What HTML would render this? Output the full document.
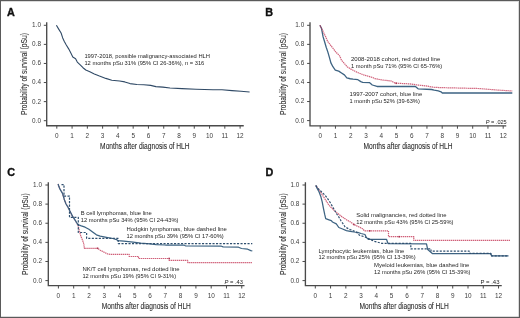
<!DOCTYPE html>
<html><head><meta charset="utf-8"><style>
html,body{margin:0;padding:0;background:#fff;}
body{width:520px;height:318px;overflow:hidden;position:relative;}
svg{position:absolute;left:0;top:0;display:block;font-family:"Liberation Sans", sans-serif;will-change:transform;}
svg.main{filter:blur(0.3px);}
</style></head><body>
<svg class="main" width="520" height="318" viewBox="0 0 520 318">
<rect x="0" y="0" width="520" height="318" fill="#fff"/>
<text x="7" y="16.2" font-size="10.8" text-anchor="start" fill="#111" font-weight="bold" font-style="normal" stroke="#111" stroke-width="0.35">A</text>
<path d="M46.7 22.3V125.75H243.75" fill="none" stroke="#4a4a4a" stroke-width="1.35"/>
<text x="41" y="122.6" font-size="6.4" text-anchor="end" fill="#3c3c3c" font-weight="normal" font-style="normal">0.0</text>
<text x="41" y="103.52" font-size="6.4" text-anchor="end" fill="#3c3c3c" font-weight="normal" font-style="normal">0.2</text>
<text x="41" y="84.44" font-size="6.4" text-anchor="end" fill="#3c3c3c" font-weight="normal" font-style="normal">0.4</text>
<text x="41" y="65.36" font-size="6.4" text-anchor="end" fill="#3c3c3c" font-weight="normal" font-style="normal">0.6</text>
<text x="41" y="46.28" font-size="6.4" text-anchor="end" fill="#3c3c3c" font-weight="normal" font-style="normal">0.8</text>
<text x="41" y="27.2" font-size="6.4" text-anchor="end" fill="#3c3c3c" font-weight="normal" font-style="normal">1.0</text>
<text x="56.8" y="137.55" font-size="6.4" text-anchor="middle" fill="#3c3c3c" font-weight="normal" font-style="normal">0</text>
<text x="72.08" y="137.55" font-size="6.4" text-anchor="middle" fill="#3c3c3c" font-weight="normal" font-style="normal">1</text>
<text x="87.35" y="137.55" font-size="6.4" text-anchor="middle" fill="#3c3c3c" font-weight="normal" font-style="normal">2</text>
<text x="102.62" y="137.55" font-size="6.4" text-anchor="middle" fill="#3c3c3c" font-weight="normal" font-style="normal">3</text>
<text x="117.9" y="137.55" font-size="6.4" text-anchor="middle" fill="#3c3c3c" font-weight="normal" font-style="normal">4</text>
<text x="133.18" y="137.55" font-size="6.4" text-anchor="middle" fill="#3c3c3c" font-weight="normal" font-style="normal">5</text>
<text x="148.45" y="137.55" font-size="6.4" text-anchor="middle" fill="#3c3c3c" font-weight="normal" font-style="normal">6</text>
<text x="163.72" y="137.55" font-size="6.4" text-anchor="middle" fill="#3c3c3c" font-weight="normal" font-style="normal">7</text>
<text x="179" y="137.55" font-size="6.4" text-anchor="middle" fill="#3c3c3c" font-weight="normal" font-style="normal">8</text>
<text x="194.27" y="137.55" font-size="6.4" text-anchor="middle" fill="#3c3c3c" font-weight="normal" font-style="normal">9</text>
<text x="209.55" y="137.55" font-size="6.4" text-anchor="middle" fill="#3c3c3c" font-weight="normal" font-style="normal">10</text>
<text x="224.82" y="137.55" font-size="6.4" text-anchor="middle" fill="#3c3c3c" font-weight="normal" font-style="normal">11</text>
<text x="240.1" y="137.55" font-size="6.4" text-anchor="middle" fill="#3c3c3c" font-weight="normal" font-style="normal">12</text>
<path d="M43.8 120.7H46.7M43.8 101.62H46.7M43.8 82.54H46.7M43.8 63.46H46.7M43.8 44.38H46.7M43.8 25.3H46.7M56.8 125.75V128.65M72.08 125.75V128.65M87.35 125.75V128.65M102.62 125.75V128.65M117.9 125.75V128.65M133.18 125.75V128.65M148.45 125.75V128.65M163.72 125.75V128.65M179 125.75V128.65M194.27 125.75V128.65M209.55 125.75V128.65M224.82 125.75V128.65M240.1 125.75V128.65" fill="none" stroke="#4a4a4a" stroke-width="1"/>
<text x="100.1" y="148.9" font-size="8.6" text-anchor="start" fill="#2a2a2a" font-weight="normal" font-style="normal" textLength="89.5" lengthAdjust="spacingAndGlyphs" stroke="#2a2a2a" stroke-width="0.08">Months after diagnosis of HLH</text>
<g transform="translate(26.6 114.9) rotate(-90)"><text x="0" y="0" font-size="8.6" text-anchor="start" fill="#2a2a2a" font-weight="normal" font-style="normal" textLength="82" lengthAdjust="spacingAndGlyphs" stroke="#2a2a2a" stroke-width="0.08">Probability of survival (pSu)</text></g>
<text x="265.3" y="15.8" font-size="10.8" text-anchor="start" fill="#111" font-weight="bold" font-style="normal" stroke="#111" stroke-width="0.35">B</text>
<path d="M310 22.3V125.8H506.25" fill="none" stroke="#4a4a4a" stroke-width="1.35"/>
<text x="304.2" y="122.5" font-size="6.4" text-anchor="end" fill="#3c3c3c" font-weight="normal" font-style="normal">0.0</text>
<text x="304.2" y="103.44" font-size="6.4" text-anchor="end" fill="#3c3c3c" font-weight="normal" font-style="normal">0.2</text>
<text x="304.2" y="84.38" font-size="6.4" text-anchor="end" fill="#3c3c3c" font-weight="normal" font-style="normal">0.4</text>
<text x="304.2" y="65.32" font-size="6.4" text-anchor="end" fill="#3c3c3c" font-weight="normal" font-style="normal">0.6</text>
<text x="304.2" y="46.26" font-size="6.4" text-anchor="end" fill="#3c3c3c" font-weight="normal" font-style="normal">0.8</text>
<text x="304.2" y="27.2" font-size="6.4" text-anchor="end" fill="#3c3c3c" font-weight="normal" font-style="normal">1.0</text>
<text x="320.2" y="137.6" font-size="6.4" text-anchor="middle" fill="#3c3c3c" font-weight="normal" font-style="normal">0</text>
<text x="335.45" y="137.6" font-size="6.4" text-anchor="middle" fill="#3c3c3c" font-weight="normal" font-style="normal">1</text>
<text x="350.7" y="137.6" font-size="6.4" text-anchor="middle" fill="#3c3c3c" font-weight="normal" font-style="normal">2</text>
<text x="365.95" y="137.6" font-size="6.4" text-anchor="middle" fill="#3c3c3c" font-weight="normal" font-style="normal">3</text>
<text x="381.2" y="137.6" font-size="6.4" text-anchor="middle" fill="#3c3c3c" font-weight="normal" font-style="normal">4</text>
<text x="396.45" y="137.6" font-size="6.4" text-anchor="middle" fill="#3c3c3c" font-weight="normal" font-style="normal">5</text>
<text x="411.7" y="137.6" font-size="6.4" text-anchor="middle" fill="#3c3c3c" font-weight="normal" font-style="normal">6</text>
<text x="426.95" y="137.6" font-size="6.4" text-anchor="middle" fill="#3c3c3c" font-weight="normal" font-style="normal">7</text>
<text x="442.2" y="137.6" font-size="6.4" text-anchor="middle" fill="#3c3c3c" font-weight="normal" font-style="normal">8</text>
<text x="457.45" y="137.6" font-size="6.4" text-anchor="middle" fill="#3c3c3c" font-weight="normal" font-style="normal">9</text>
<text x="472.7" y="137.6" font-size="6.4" text-anchor="middle" fill="#3c3c3c" font-weight="normal" font-style="normal">10</text>
<text x="487.95" y="137.6" font-size="6.4" text-anchor="middle" fill="#3c3c3c" font-weight="normal" font-style="normal">11</text>
<text x="503.2" y="137.6" font-size="6.4" text-anchor="middle" fill="#3c3c3c" font-weight="normal" font-style="normal">12</text>
<path d="M307.1 120.6H310M307.1 101.54H310M307.1 82.48H310M307.1 63.42H310M307.1 44.36H310M307.1 25.3H310M320.2 125.8V128.7M335.45 125.8V128.7M350.7 125.8V128.7M365.95 125.8V128.7M381.2 125.8V128.7M396.45 125.8V128.7M411.7 125.8V128.7M426.95 125.8V128.7M442.2 125.8V128.7M457.45 125.8V128.7M472.7 125.8V128.7M487.95 125.8V128.7M503.2 125.8V128.7" fill="none" stroke="#4a4a4a" stroke-width="1"/>
<text x="363.5" y="148.9" font-size="8.6" text-anchor="start" fill="#2a2a2a" font-weight="normal" font-style="normal" textLength="89.1" lengthAdjust="spacingAndGlyphs" stroke="#2a2a2a" stroke-width="0.08">Months after diagnosis of HLH</text>
<g transform="translate(285.8 115) rotate(-90)"><text x="0" y="0" font-size="8.6" text-anchor="start" fill="#2a2a2a" font-weight="normal" font-style="normal" textLength="82" lengthAdjust="spacingAndGlyphs" stroke="#2a2a2a" stroke-width="0.08">Probability of survival (pSu)</text></g>
<text x="7.3" y="176.2" font-size="10.8" text-anchor="start" fill="#111" font-weight="bold" font-style="normal" stroke="#111" stroke-width="0.35">C</text>
<path d="M48.3 182.2V285.6H244.5" fill="none" stroke="#4a4a4a" stroke-width="1.35"/>
<text x="42" y="282.5" font-size="6.4" text-anchor="end" fill="#3c3c3c" font-weight="normal" font-style="normal">0.0</text>
<text x="42" y="263.38" font-size="6.4" text-anchor="end" fill="#3c3c3c" font-weight="normal" font-style="normal">0.2</text>
<text x="42" y="244.26" font-size="6.4" text-anchor="end" fill="#3c3c3c" font-weight="normal" font-style="normal">0.4</text>
<text x="42" y="225.14" font-size="6.4" text-anchor="end" fill="#3c3c3c" font-weight="normal" font-style="normal">0.6</text>
<text x="42" y="206.02" font-size="6.4" text-anchor="end" fill="#3c3c3c" font-weight="normal" font-style="normal">0.8</text>
<text x="42" y="186.9" font-size="6.4" text-anchor="end" fill="#3c3c3c" font-weight="normal" font-style="normal">1.0</text>
<text x="58.4" y="297.6" font-size="6.4" text-anchor="middle" fill="#3c3c3c" font-weight="normal" font-style="normal">0</text>
<text x="73.68" y="297.6" font-size="6.4" text-anchor="middle" fill="#3c3c3c" font-weight="normal" font-style="normal">1</text>
<text x="88.96" y="297.6" font-size="6.4" text-anchor="middle" fill="#3c3c3c" font-weight="normal" font-style="normal">2</text>
<text x="104.24" y="297.6" font-size="6.4" text-anchor="middle" fill="#3c3c3c" font-weight="normal" font-style="normal">3</text>
<text x="119.52" y="297.6" font-size="6.4" text-anchor="middle" fill="#3c3c3c" font-weight="normal" font-style="normal">4</text>
<text x="134.8" y="297.6" font-size="6.4" text-anchor="middle" fill="#3c3c3c" font-weight="normal" font-style="normal">5</text>
<text x="150.08" y="297.6" font-size="6.4" text-anchor="middle" fill="#3c3c3c" font-weight="normal" font-style="normal">6</text>
<text x="165.36" y="297.6" font-size="6.4" text-anchor="middle" fill="#3c3c3c" font-weight="normal" font-style="normal">7</text>
<text x="180.64" y="297.6" font-size="6.4" text-anchor="middle" fill="#3c3c3c" font-weight="normal" font-style="normal">8</text>
<text x="195.92" y="297.6" font-size="6.4" text-anchor="middle" fill="#3c3c3c" font-weight="normal" font-style="normal">9</text>
<text x="211.2" y="297.6" font-size="6.4" text-anchor="middle" fill="#3c3c3c" font-weight="normal" font-style="normal">10</text>
<text x="226.48" y="297.6" font-size="6.4" text-anchor="middle" fill="#3c3c3c" font-weight="normal" font-style="normal">11</text>
<text x="241.76" y="297.6" font-size="6.4" text-anchor="middle" fill="#3c3c3c" font-weight="normal" font-style="normal">12</text>
<path d="M45.4 280.6H48.3M45.4 261.48H48.3M45.4 242.36H48.3M45.4 223.24H48.3M45.4 204.12H48.3M45.4 185H48.3M58.4 285.6V288.5M73.68 285.6V288.5M88.96 285.6V288.5M104.24 285.6V288.5M119.52 285.6V288.5M134.8 285.6V288.5M150.08 285.6V288.5M165.36 285.6V288.5M180.64 285.6V288.5M195.92 285.6V288.5M211.2 285.6V288.5M226.48 285.6V288.5M241.76 285.6V288.5" fill="none" stroke="#4a4a4a" stroke-width="1"/>
<text x="101.8" y="308.9" font-size="8.6" text-anchor="start" fill="#2a2a2a" font-weight="normal" font-style="normal" textLength="89.1" lengthAdjust="spacingAndGlyphs" stroke="#2a2a2a" stroke-width="0.08">Months after diagnosis of HLH</text>
<g transform="translate(28.2 275.1) rotate(-90)"><text x="0" y="0" font-size="8.6" text-anchor="start" fill="#2a2a2a" font-weight="normal" font-style="normal" textLength="81.9" lengthAdjust="spacingAndGlyphs" stroke="#2a2a2a" stroke-width="0.08">Probability of survival (pSu)</text></g>
<text x="265.6" y="176.2" font-size="10.8" text-anchor="start" fill="#111" font-weight="bold" font-style="normal" stroke="#111" stroke-width="0.35">D</text>
<path d="M305.4 182.2V285.6H501.75" fill="none" stroke="#4a4a4a" stroke-width="1.35"/>
<text x="299.4" y="282.5" font-size="6.4" text-anchor="end" fill="#3c3c3c" font-weight="normal" font-style="normal">0.0</text>
<text x="299.4" y="263.38" font-size="6.4" text-anchor="end" fill="#3c3c3c" font-weight="normal" font-style="normal">0.2</text>
<text x="299.4" y="244.26" font-size="6.4" text-anchor="end" fill="#3c3c3c" font-weight="normal" font-style="normal">0.4</text>
<text x="299.4" y="225.14" font-size="6.4" text-anchor="end" fill="#3c3c3c" font-weight="normal" font-style="normal">0.6</text>
<text x="299.4" y="206.02" font-size="6.4" text-anchor="end" fill="#3c3c3c" font-weight="normal" font-style="normal">0.8</text>
<text x="299.4" y="186.9" font-size="6.4" text-anchor="end" fill="#3c3c3c" font-weight="normal" font-style="normal">1.0</text>
<text x="315.3" y="297.6" font-size="6.4" text-anchor="middle" fill="#3c3c3c" font-weight="normal" font-style="normal">0</text>
<text x="330.57" y="297.6" font-size="6.4" text-anchor="middle" fill="#3c3c3c" font-weight="normal" font-style="normal">1</text>
<text x="345.84" y="297.6" font-size="6.4" text-anchor="middle" fill="#3c3c3c" font-weight="normal" font-style="normal">2</text>
<text x="361.11" y="297.6" font-size="6.4" text-anchor="middle" fill="#3c3c3c" font-weight="normal" font-style="normal">3</text>
<text x="376.38" y="297.6" font-size="6.4" text-anchor="middle" fill="#3c3c3c" font-weight="normal" font-style="normal">4</text>
<text x="391.65" y="297.6" font-size="6.4" text-anchor="middle" fill="#3c3c3c" font-weight="normal" font-style="normal">5</text>
<text x="406.92" y="297.6" font-size="6.4" text-anchor="middle" fill="#3c3c3c" font-weight="normal" font-style="normal">6</text>
<text x="422.19" y="297.6" font-size="6.4" text-anchor="middle" fill="#3c3c3c" font-weight="normal" font-style="normal">7</text>
<text x="437.46" y="297.6" font-size="6.4" text-anchor="middle" fill="#3c3c3c" font-weight="normal" font-style="normal">8</text>
<text x="452.73" y="297.6" font-size="6.4" text-anchor="middle" fill="#3c3c3c" font-weight="normal" font-style="normal">9</text>
<text x="468" y="297.6" font-size="6.4" text-anchor="middle" fill="#3c3c3c" font-weight="normal" font-style="normal">10</text>
<text x="483.27" y="297.6" font-size="6.4" text-anchor="middle" fill="#3c3c3c" font-weight="normal" font-style="normal">11</text>
<text x="498.54" y="297.6" font-size="6.4" text-anchor="middle" fill="#3c3c3c" font-weight="normal" font-style="normal">12</text>
<path d="M302.5 280.6H305.4M302.5 261.48H305.4M302.5 242.36H305.4M302.5 223.24H305.4M302.5 204.12H305.4M302.5 185H305.4M315.3 285.6V288.5M330.57 285.6V288.5M345.84 285.6V288.5M361.11 285.6V288.5M376.38 285.6V288.5M391.65 285.6V288.5M406.92 285.6V288.5M422.19 285.6V288.5M437.46 285.6V288.5M452.73 285.6V288.5M468 285.6V288.5M483.27 285.6V288.5M498.54 285.6V288.5" fill="none" stroke="#4a4a4a" stroke-width="1"/>
<text x="359.6" y="308.9" font-size="8.6" text-anchor="start" fill="#2a2a2a" font-weight="normal" font-style="normal" textLength="89.2" lengthAdjust="spacingAndGlyphs" stroke="#2a2a2a" stroke-width="0.08">Months after diagnosis of HLH</text>
<g transform="translate(286.3 275.1) rotate(-90)"><text x="0" y="0" font-size="8.6" text-anchor="start" fill="#2a2a2a" font-weight="normal" font-style="normal" textLength="81.9" lengthAdjust="spacingAndGlyphs" stroke="#2a2a2a" stroke-width="0.08">Probability of survival (pSu)</text></g>
<path d="M56.4 25.3 L58.7 29.1 L61.1 33 L62.6 37.7 L64.2 41.2 L66 44.5 L68.8 49.1 L71.1 53.6 L72.8 57 L75.6 58.7 L77.3 62.1 L80.2 64.9 L83 67.7 L85.8 70 L89.8 71.7 L94.3 74 L98.8 75.8 L105.8 78.4 L111.8 80.2 L119.6 81 L124.8 81.9 L130 83.6 L136.9 84.5 L143.8 84.8 L150.7 85.4 L155.9 86.6 L162.9 87.1 L170 88 L182 88.6 L196 89.2 L213 89.7 L222 89.8 L232 90.6 L241 91.3 L249.6 92" fill="none" stroke="#304a66" stroke-width="1.1" stroke-linejoin="round" opacity="1"/>
<path d="M319.9 25.3 L321.5 28.3 L323.1 36.9 L324.6 41.7 L326.2 47.2 L327.8 51.9 L329.4 57.4 L330.9 62.9 L332.9 66.7 L335.3 70.1 L338.7 71.1 L341.5 73 L344.4 74.9 L346.8 77.8 L350.2 78.75 L353.1 79.2 L357.9 79.7 L360.8 81.6 L362.7 82.3 L369.4 82.6 L372.3 85 L376.2 86.2 L377 86.5 L415.4 86.5 L418.1 88.8 L431.5 89.5 L434.2 90.2 L438.3 90.9 L441 91.8 L442.3 93 L512.3 93" fill="none" stroke="#3d6382" stroke-width="1.3" stroke-linejoin="round" opacity="1"/>
<path d="M319.9 25.3 L323.1 31.4 L325.4 36.2 L327.8 41.7 L330.9 45.6 L333.3 48.7 L335.7 51.9 L339.6 55.8 L341.5 60.2 L344 63.1 L347 66.6 L350.5 68.9 L355 71.2 L358.8 73 L363.7 74.9 L368.5 76.3 L373.3 77.8 L375 78.7 L383.1 80.1 L391.2 81 L395.2 83.1 L401.9 83.5 L410 83.9 L418.1 85.1 L426.1 85.9 L432.9 87.2 L440 87.6 L478.5 88.5 L496.9 90 L512.3 91" fill="none" stroke="#c43858" stroke-width="1.2" stroke-dasharray="1.4 0.6" stroke-linejoin="round" opacity="0.8"/>
<path d="M58.1 184 L58.9 186.6 L59.7 188.6 L62.5 193.4 L64.4 199.7 L66 204 L67.5 206.3 L70 211.3 L72.6 216.4 L75.1 220.1 L78.1 225.6 L79.1 229.7 L80.7 235.7 L82.5 240.1 L83.8 243.9 L84.4 248.3 L97.6 248.3 L100.2 250.2 L103.9 252.1 L107.7 254 L110.2 254.3 L129.2 254.3 L129.2 256.5 L138.5 256.5 L138.5 258.5 L169.2 258.5 L169.2 260.4 L187.7 260.4 L187.7 262.6 L252.3 262.6" fill="none" stroke="#c43858" stroke-width="1.2" stroke-dasharray="1.4 0.6" stroke-linejoin="round" opacity="0.8"/>
<path d="M58.1 184 L58.9 186.6 L59.7 188.6 L62.5 193.4 L64.4 199.7 L66 204 L67.5 206.3 L70 211.3 L72.6 216.4 L75.1 220.1 L77.8 224.5 L81.3 225.9 L85.1 227.2 L88.9 229.2 L92.6 232 L96.4 234.8 L100.2 236.1 L106.5 237.3 L112.8 238.5 L116.5 239.6 L117.8 240.6 L123.8 241.2 L133.1 242.2 L140.8 243.2 L150 243.8 L156.2 244.6 L165.4 245 L183.8 245 L185.4 245.8 L221.5 246.2 L223.1 246.9 L238.5 247.2 L241.5 248.5 L247.7 249.2 L250.8 250.6 L252.3 250.8" fill="none" stroke="#3d6382" stroke-width="1.25" stroke-linejoin="round" opacity="1"/>
<path d="M61.5 184.6 L64 184.6 L64 196.1 L69.5 196.1 L69.5 217.3 L78.3 217.3 L78.3 232.5 L86.6 232.5 L86.6 238.3 L118.2 238.3 L118.2 243.6 L252.3 243.6" fill="none" stroke="#2f4f6f" stroke-width="1.2" stroke-dasharray="2.1 1.4" stroke-linejoin="round" opacity="1"/>
<path d="M315.8 185.5 L318.5 189.5 L320.5 191.8 L322.8 195.6 L326 200.6 L329 205.3 L332.7 209.1 L337 212.9 L342 216.8 L346.5 219.8 L350.5 222 L353.9 224.5 L358.7 226.8 L362.5 228.7 L364.4 230.8 L388.5 230.8 L388.5 236.7 L413.8 236.7 L413.8 240.4 L510 240.4" fill="none" stroke="#c43858" stroke-width="1.2" stroke-dasharray="1.4 0.6" stroke-linejoin="round" opacity="0.8"/>
<path d="M315.8 185.5 L317.7 189.5 L319 191.8 L320.9 196.8 L322.2 201.9 L323.4 208.2 L324.7 214.4 L325.7 218.6 L329 219.8 L331.3 220.6 L332.5 222 L336.3 223.9 L338.8 227.5 L342.6 229 L346.4 230.6 L350.2 231.4 L353.9 232 L357.7 232.4 L361 233.5 L365 234.5 L366.3 237.4 L368.3 239.3 L386.5 239.3 L388 243.6 L426.5 243.8 L427.7 249.6 L432.3 253.5 L490.8 253.5 L491.5 255.8 L508.5 255.8" fill="none" stroke="#3d6382" stroke-width="1.25" stroke-linejoin="round" opacity="1"/>
<path d="M315.8 185.5 L318.5 189 L321.5 191.8 L325.3 195.6 L327.8 198.9 L330.5 203 L333.3 208 L336.2 213.2 L339 217.3 L340.8 220.5 L342.4 222.8 L345.1 227 L350.2 229.6 L356.4 232.1 L359.6 235.3 L365 237 L374 241.2 L381.7 243.3 L410.8 243.3 L410.8 248.8 L431 248.8 L431 251.2 L469.2 251.2 L469.2 253.4 L490.8 253.4 L490.8 255.8 L508.5 255.8" fill="none" stroke="#2f4f6f" stroke-width="1.2" stroke-dasharray="2.1 1.4" stroke-linejoin="round" opacity="1"/>
<rect x="395.4" y="82.5" width="1.6" height="1.6" fill="#a02040" opacity="0.8"/>
<rect x="168.4" y="257.7" width="1.6" height="1.6" fill="#a02040" opacity="0.8"/>
<rect x="96.8" y="247.5" width="1.6" height="1.6" fill="#a02040" opacity="0.8"/>
<rect x="353.1" y="223.7" width="1.6" height="1.6" fill="#a02040" opacity="0.8"/>
<rect x="368.9" y="230" width="1.6" height="1.6" fill="#a02040" opacity="0.8"/>
<rect x="398.4" y="235.9" width="1.6" height="1.6" fill="#a02040" opacity="0.8"/>
<text x="84.4" y="58" font-size="6.2" text-anchor="start" fill="#1e1e1e" font-weight="normal" font-style="normal" textLength="125.6" lengthAdjust="spacingAndGlyphs">1997-2018, possible malignancy-associated HLH</text>
<text x="84.4" y="64.7" font-size="6.2" text-anchor="start" fill="#1e1e1e" font-weight="normal" font-style="normal" textLength="119.9" lengthAdjust="spacingAndGlyphs">12 months pSu 31% (95% CI 26-36%), n = 316</text>
<text x="350.9" y="61.4" font-size="6.2" text-anchor="start" fill="#1e1e1e" font-weight="normal" font-style="normal" textLength="89.4" lengthAdjust="spacingAndGlyphs">2008-2018 cohort, red dotted line</text>
<text x="350.9" y="68.3" font-size="6.2" text-anchor="start" fill="#1e1e1e" font-weight="normal" font-style="normal" textLength="91.4" lengthAdjust="spacingAndGlyphs">1 month pSu 71% (95% CI 65-76%)</text>
<text x="349.6" y="96.3" font-size="6.2" text-anchor="start" fill="#1e1e1e" font-weight="normal" font-style="normal" textLength="72.7" lengthAdjust="spacingAndGlyphs">1997-2007 cohort, blue line</text>
<text x="349.6" y="102.9" font-size="6.2" text-anchor="start" fill="#1e1e1e" font-weight="normal" font-style="normal" textLength="70.2" lengthAdjust="spacingAndGlyphs">1 month pSu 52% (39-63%)</text>
<text x="80.8" y="214.9" font-size="6.2" text-anchor="start" fill="#1e1e1e" font-weight="normal" font-style="normal" textLength="71.1" lengthAdjust="spacingAndGlyphs">B cell lymphomas, blue line</text>
<text x="80.8" y="221.6" font-size="6.2" text-anchor="start" fill="#1e1e1e" font-weight="normal" font-style="normal" textLength="97.7" lengthAdjust="spacingAndGlyphs">12 months pSu 34% (95% CI 24-43%)</text>
<text x="126.5" y="231.1" font-size="6.2" text-anchor="start" fill="#1e1e1e" font-weight="normal" font-style="normal" textLength="100.4" lengthAdjust="spacingAndGlyphs">Hodgkin lymphomas, blue dashed line</text>
<text x="126.5" y="237.9" font-size="6.2" text-anchor="start" fill="#1e1e1e" font-weight="normal" font-style="normal" textLength="97.2" lengthAdjust="spacingAndGlyphs">12 months pSu 39% (95% CI 17-60%)</text>
<text x="82.4" y="271.1" font-size="6.2" text-anchor="start" fill="#1e1e1e" font-weight="normal" font-style="normal" textLength="97.2" lengthAdjust="spacingAndGlyphs">NK/T cell lymphomas, red dotted line</text>
<text x="82.4" y="278.4" font-size="6.2" text-anchor="start" fill="#1e1e1e" font-weight="normal" font-style="normal" textLength="93.7" lengthAdjust="spacingAndGlyphs">12 months pSu 19% (95% CI 9-31%)</text>
<text x="356.2" y="216.7" font-size="6.2" text-anchor="start" fill="#1e1e1e" font-weight="normal" font-style="normal" textLength="90.3" lengthAdjust="spacingAndGlyphs">Solid malignancies, red dotted line</text>
<text x="356.2" y="223.8" font-size="6.2" text-anchor="start" fill="#1e1e1e" font-weight="normal" font-style="normal" textLength="97.2" lengthAdjust="spacingAndGlyphs">12 months pSu 43% (95% CI 25-59%)</text>
<text x="318.5" y="252.6" font-size="6.2" text-anchor="start" fill="#1e1e1e" font-weight="normal" font-style="normal" textLength="85.9" lengthAdjust="spacingAndGlyphs">Lymphocytic leukemias, blue line</text>
<text x="318.5" y="259" font-size="6.2" text-anchor="start" fill="#1e1e1e" font-weight="normal" font-style="normal" textLength="97.1" lengthAdjust="spacingAndGlyphs">12 months pSu 25% (95% CI 13-39%)</text>
<text x="374" y="266.7" font-size="6.2" text-anchor="start" fill="#1e1e1e" font-weight="normal" font-style="normal" textLength="95.4" lengthAdjust="spacingAndGlyphs">Myeloid leukemias, blue dashed line</text>
<text x="374" y="274" font-size="6.2" text-anchor="start" fill="#1e1e1e" font-weight="normal" font-style="normal" textLength="96.4" lengthAdjust="spacingAndGlyphs">12 months pSu 26% (95% CI 15-39%)</text>
<text x="485.75" y="123.8" font-size="6.2" fill="#1e1e1e" textLength="21" lengthAdjust="spacingAndGlyphs"><tspan font-style="italic">P</tspan> = .025</text>
<text x="224.5" y="283.6" font-size="6.2" fill="#1e1e1e" textLength="18.5" lengthAdjust="spacingAndGlyphs"><tspan font-style="italic">P</tspan> = .43</text>
<text x="480.5" y="284.2" font-size="6.2" fill="#1e1e1e" textLength="19" lengthAdjust="spacingAndGlyphs"><tspan font-style="normal">P</tspan> = .43</text>
</svg>
<svg width="520" height="318" viewBox="0 0 520 318">
<path d="M0.5 0V318M0 0.5H520M519.5 0V318M0 317.5H520" stroke="#5a5a5a" stroke-width="1" fill="none"/>
<path d="M518.5 1V317M1 316.5H519M1 1.5H518" stroke="#999" stroke-width="1" fill="none" opacity="0.35"/>
</svg>
</body></html>
